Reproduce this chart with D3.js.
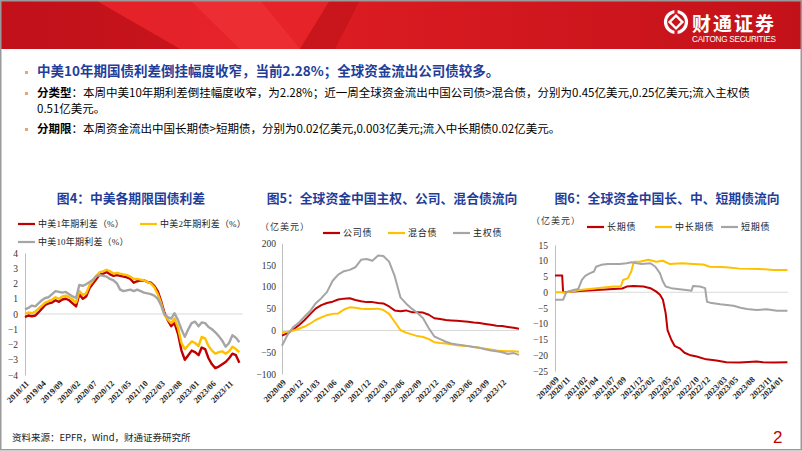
<!DOCTYPE html>
<html><head><meta charset="utf-8">
<script src="https://cdn.jsdelivr.net/npm/d3@7"></script>
<style>
body{margin:0;background:#fff;}
svg{display:block;}
</style></head><body>
<svg id="c" width="802" height="451"></svg>
<script>
// ---------------- DATA ----------------
// Chart 4: China-US government bond spreads (%), monthly 2018/11 - 2024/02
const c4Months = d3.timeMonth.range(new Date(2018, 10, 1), new Date(2024, 2, 1));
const spread1Y = [-0.2,-0.1,-0.15,-0.1,0.1,0.35,0.6,0.7,0.75,0.9,0.8,0.95,1.0,0.9,0.7,0.5,1.3,1.0,1.15,1.7,2.0,2.3,2.6,2.65,2.75,2.6,2.5,2.55,2.5,2.45,2.4,2.3,2.05,2.15,2.2,2.2,2.1,2.05,1.85,1.5,0.9,0.1,-0.4,-0.8,-0.6,-1.3,-2.4,-3.0,-2.7,-2.4,-2.5,-2.7,-2.2,-2.3,-2.9,-3.3,-3.55,-3.45,-3.3,-3.15,-2.9,-2.6,-2.7,-3.2];
const spread2Y = [0.0,0.1,0.05,0.15,0.35,0.55,0.75,0.85,0.95,1.1,1.0,1.15,1.2,1.1,0.95,0.75,1.5,1.25,1.35,1.9,2.2,2.5,2.75,2.8,2.9,2.8,2.65,2.7,2.65,2.6,2.55,2.45,2.3,2.3,2.25,2.2,2.1,2.0,1.75,1.3,0.75,-0.05,-0.35,-0.6,-0.3,-0.9,-1.9,-2.3,-2.05,-1.8,-1.9,-2.1,-1.5,-1.6,-2.1,-2.4,-2.6,-2.5,-2.45,-2.6,-2.45,-2.15,-2.3,-2.5];
const spread10Y = [0.3,0.4,0.55,0.5,0.7,0.9,1.05,1.1,1.3,1.5,1.45,1.4,1.45,1.3,1.15,1.05,1.9,1.85,1.95,2.1,2.25,2.5,2.55,2.5,2.45,2.3,2.2,2.0,1.6,1.5,1.55,1.6,1.5,1.6,1.5,1.4,1.35,1.3,1.2,1.0,0.6,0.0,-0.2,-0.3,0.05,-0.4,-1.0,-1.5,-1.0,-0.6,-0.5,-0.8,-0.55,-0.6,-0.85,-1.0,-1.2,-1.45,-1.75,-2.15,-1.9,-1.4,-1.55,-1.85];
const c4Ticks = ["2018/11","2019/04","2019/09","2020/02","2020/07","2020/12","2021/05","2021/10","2022/03","2022/08","2023/01","2023/06","2023/11"];
const c4YTicks = [-4,-3,-2,-1,0,1,2,3,4];
const c4Names = ["中美1年期利差（%）","中美2年期利差（%）","中美10年期利差（%）"];

// Chart 5: flows by bond type (100m USD), monthly 2020/09 - 2024/03
const c5Months = d3.timeMonth.range(new Date(2020, 8, 1), new Date(2024, 3, 1));
const corpBond   = [-12,-6,2,12,24,38,50,58,63,66,71,73,74,70,67,65,65,63,62,55,46,44,46,42,42,41,36,28,26,24,23,22,21,20,18,17,15,13,11,10,8,6,4];
const hybridBond = [-5,-3,0,4,9,16,24,30,35,38,39,48,53,52,50,49,49,50,47,38,20,1,-5,-9,-13,-15,-20,-27,-29,-30,-32,-34,-35,-36,-38,-40,-42,-44,-46,-47,-48,-48,-49];
const sovBond    = [-35,-10,8,18,32,45,62,74,88,114,128,136,139,145,162,164,160,172,171,158,125,76,62,50,40,28,5,-14,-20,-26,-30,-32,-34,-36,-38,-40,-43,-46,-48,-50,-54,-52,-56];
const c5Ticks = ["2020/09","2020/12","2021/03","2021/06","2021/09","2021/12","2022/03","2022/06","2022/09","2022/12","2023/03","2023/06","2023/09","2023/12"];
const c5YTicks = [-100,-50,0,50,100,150,200];
const c5Names = ["公司债","混合债","主权债"];

// Chart 6: flows by maturity (100m USD)
const longDates = ["2020-09-01","2020-10-10","2020-10-15","2020-11-01","2021-01-15","2021-04-15","2021-07-15","2021-09-01","2021-09-25","2021-11-01","2021-12-25","2022-02-01","2022-03-05","2022-03-25","2022-04-10","2022-04-25","2022-05-05","2022-05-25","2022-06-12","2022-07-10","2022-08-05","2022-09-01","2022-10-10","2022-12-01","2023-01-25","2023-03-20","2023-06-01","2023-09-01","2023-10-05","2023-12-01","2024-02-15"];
const longBond  = [5.3,5.3,0.0,0.1,0.4,0.7,1.0,1.2,1.8,2.0,1.8,1.3,0.2,-0.8,-2.4,-6.7,-12,-15,-17,-17.8,-19.2,-19.9,-20.4,-21.3,-21.7,-22.2,-22.3,-22.0,-22.2,-22.3,-22.2];
const midDates = ["2020-09-01","2020-10-05","2020-11-01","2021-01-15","2021-04-15","2021-07-15","2021-08-25","2021-09-05","2021-10-01","2021-10-20","2021-11-03","2021-12-05","2022-01-20","2022-03-05","2022-04-10","2022-05-15","2022-07-25","2022-09-20","2022-11-15","2022-12-20","2023-03-20","2023-06-01","2023-09-15","2023-12-01","2024-02-15"];
const midBond   = [0.0,0.0,-0.1,0.7,1.3,1.8,1.8,3.9,4.4,6.6,9.7,9.7,10.3,9.7,10.0,9.0,9.2,9.0,8.8,8.1,7.9,7.5,7.4,7.1,7.1];
const shortDates = ["2020-09-01","2020-10-15","2020-11-01","2020-12-10","2021-01-05","2021-01-25","2021-02-12","2021-03-08","2021-04-01","2021-04-12","2021-05-10","2021-06-15","2021-08-20","2021-09-25","2021-10-20","2021-11-20","2021-12-15","2022-02-01","2022-02-28","2022-03-25","2022-04-10","2022-04-25","2022-05-25","2022-07-10","2022-08-15","2022-09-12","2022-09-20","2022-10-28","2022-11-25","2022-12-05","2022-12-22","2023-02-15","2023-04-28","2023-06-05","2023-07-10","2023-09-01","2023-10-25","2023-12-20","2024-02-15"];
const shortBond = [-2.4,-2.4,0.0,0.7,1.0,3.9,5.2,6.0,6.6,8.1,8.7,9.0,9.0,9.2,9.5,9.2,9.0,9.2,8.1,6.0,3.4,1.8,1.3,0.95,0.7,0.5,2.0,1.8,1.3,-3.0,-3.3,-3.8,-4.3,-4.9,-5.3,-5.6,-5.4,-5.9,-5.9];
const c6Ticks = ["2020/09","2020/11","2021/02","2021/04","2021/07","2021/09","2021/12","2022/02","2022/05","2022/07","2022/10","2022/12","2023/03","2023/05","2023/08","2023/11","2024/01"];
const c6YTicks = [-25,-20,-15,-10,-5,0,5,10,15];
const c6Names = ["长期债","中长期债","短期债"];

const RED = "#c00000", YEL = "#ffc000", GRY = "#a5a5a5";

// ---------------- DRAW ----------------
const svg = d3.select("#c");
const CJK = "'Noto Sans CJK SC','Noto Sans',sans-serif";
const SERIF = "'Liberation Serif','Noto Sans CJK SC',serif";
const pm = d3.timeParse("%Y/%m"), pd = d3.timeParse("%Y-%m-%d");
const fmt = d3.timeFormat("%Y/%m");

// header banner
const defs = svg.append("defs");
const g1 = defs.append("linearGradient").attr("id","hg").attr("x1","0").attr("x2","1");
g1.append("stop").attr("offset","0").attr("stop-color","#c8121a");
g1.append("stop").attr("offset","0.4").attr("stop-color","#dc1c22");
g1.append("stop").attr("offset","1").attr("stop-color","#c3111a");
svg.append("rect").attr("x",0).attr("y",0).attr("width",802).attr("height",49).attr("fill","url(#hg)");
svg.append("polygon").attr("points","95,0 180,49 300,49 330,0").attr("fill","#e8262c").attr("opacity",0.8);
svg.append("polygon").attr("points","190,0 240,49 300,49 260,0").attr("fill","#f0353a").attr("opacity",0.6);
svg.append("polygon").attr("points","300,49 330,0 360,0 335,49").attr("fill","#b30f16").attr("opacity",0.5);
svg.append("polygon").attr("points","0,0 95,0 180,49 0,49").attr("fill","#b8101a").attr("opacity",0.45);
// logo
const lg = svg.append("g").attr("transform","translate(676,22)");
lg.append("circle").attr("r",10.5).attr("fill","none").attr("stroke","#fff").attr("stroke-width",3.2);
lg.append("rect").attr("x",-4.5).attr("y",-4.5).attr("width",9).attr("height",9).attr("transform","rotate(45)").attr("fill","none").attr("stroke","#fff").attr("stroke-width",2.4);
lg.append("rect").attr("x",-1.6).attr("y",-13).attr("width",3.2).attr("height",5).attr("fill","#d01820");
lg.append("rect").attr("x",-1.6).attr("y",8).attr("width",3.2).attr("height",5).attr("fill","#d01820");
svg.append("text").attr("x",692).attr("y",31).attr("fill","#fff").attr("font-family",CJK).attr("font-weight",700).attr("font-size",19).attr("letter-spacing",2).text("财通证券");
svg.append("text").attr("x",692).attr("y",42).attr("fill","#fff").attr("font-family","'Liberation Sans',Arial,sans-serif").attr("font-size",8.2).attr("textLength",84).text("CAITONG SECURITIES");

// slide frame
svg.append("rect").attr("x",0.75).attr("y",0.75).attr("width",800.5).attr("height",449).attr("fill","none").attr("stroke","#9a9a9a").attr("stroke-width",1.5);

// bullets
const bullets = [
  {y:76, parts:[{t:"中美10年期国债利差倒挂幅度收窄，当前2.28%；全球资金流出公司债较多。",b:true,c:"#1f3d99",s:13.5}]},
  {y:97, parts:[{t:"分类型",b:true,c:"#000",s:11.5},{t:"：本周中美10年期利差倒挂幅度收窄，为2.28%；近一周全球资金流出中国公司债>混合债，分别为0.45亿美元,0.25亿美元;流入主权债",b:false,c:"#000",s:11.5}]},
  {y:113, parts:[{t:"0.51亿美元。",b:false,c:"#000",s:11.5}], nob:true},
  {y:133, parts:[{t:"分期限",b:true,c:"#000",s:11.5},{t:"：本周资金流出中国长期债>短期债，分别为0.02亿美元,0.003亿美元;流入中长期债0.02亿美元。",b:false,c:"#000",s:11.5}]}
];
bullets.forEach(bl=>{
  if(!bl.nob) svg.append("rect").attr("x",25).attr("y",bl.y-5).attr("width",3).attr("height",3).attr("fill","#e0a878");
  const t = svg.append("text").attr("x",37).attr("y",bl.y).attr("font-family",CJK);
  bl.parts.forEach(p=>t.append("tspan").attr("font-weight",p.b?700:400).attr("fill",p.c).attr("font-size",p.s).text(p.t));
});

// chart helper
function chart(cfg){
  const g = svg.append("g");
  g.append("text").attr("x",cfg.titleX).attr("y",203).attr("text-anchor","middle").attr("font-family",CJK)
    .attr("font-weight",700).attr("font-size",12.8).attr("fill","#1f3d99").text(cfg.title);
  const x = d3.scaleTime().domain(cfg.xDomain).range(cfg.xRange);
  const y = d3.scaleLinear().domain(cfg.yDomain).range(cfg.yRange);
  // zero line
  g.append("line").attr("x1",cfg.xRange[0]).attr("x2",cfg.xRange[1]).attr("y1",y(0)).attr("y2",y(0)).attr("stroke","#d9d9d9").attr("stroke-width",1);
  // y axis
  const ya = g.append("g").attr("transform",`translate(${cfg.xRange[0]},0)`)
    .call(d3.axisLeft(y).tickValues(cfg.yTicks).tickSize(0).tickPadding(cfg.yPad));
  ya.select(".domain").attr("stroke","#bfbfbf").attr("stroke-width",1);
  ya.selectAll("text").attr("font-family",SERIF).attr("font-size",9.5).attr("fill","#333");
  // x axis labels
  const xa = g.append("g").attr("transform",`translate(0,${cfg.yRange[0]+5})`)
    .call(d3.axisBottom(x).tickValues(cfg.xTicks.map(pm)).tickSize(0).tickFormat(fmt));
  xa.select(".domain").remove();
  xa.selectAll("text").attr("y",0).attr("x",0).attr("dy","0.35em").attr("text-anchor","end")
    .attr("transform","translate(2,2) rotate(-45)").attr("font-family",SERIF).attr("font-weight",700)
    .attr("font-size",8.5).attr("fill","#222");
  // lines
  const line = d3.line().x(d=>x(d[0])).y(d=>y(d[1]));
  cfg.series.forEach(s=>{
    g.append("path").datum(s.dates.map((d,i)=>[d,s.values[i]]))
      .attr("fill","none").attr("stroke",s.color).attr("stroke-width",cfg.lw).attr("stroke-linejoin","round").attr("d",line);
  });
  // legend
  cfg.legend.forEach((l,i)=>{
    const s = cfg.series[i];
    g.append("line").attr("x1",l[0]).attr("x2",l[0]+17).attr("y1",l[1]).attr("y2",l[1]).attr("stroke",s.color).attr("stroke-width",2.2);
    g.append("text").attr("x",l[0]+20).attr("y",l[1]+3.3).attr("font-family",SERIF).attr("font-size",cfg.lfs)
      .attr("letter-spacing",cfg.lls).attr("fill","#222").text(s.name);
  });
  if(cfg.unit) g.append("text").attr("x",cfg.unit[0]).attr("y",cfg.unit[1]).attr("font-family",SERIF).attr("font-size",9)
      .attr("letter-spacing",1).attr("fill","#333").text("（亿美元）");
}

chart({
  title:"图4：中美各期限国债利差", titleX:131,
  xDomain:[new Date(2018,10,1), new Date(2024,2,1)], xRange:[25,242.6],
  yDomain:[-4,4], yRange:[375,253], yTicks:c4YTicks, yPad:7, xTicks:c4Ticks, lw:2.4, lfs:9, lls:0.2,
  series:[
    {name:c4Names[0], color:RED, dates:c4Months, values:spread1Y},
    {name:c4Names[1], color:YEL, dates:c4Months, values:spread2Y},
    {name:c4Names[2], color:GRY, dates:c4Months, values:spread10Y}
  ],
  legend:[[18,224],[140,224],[18,242]]
});
chart({
  title:"图5：全球资金中国主权、公司、混合债流向", titleX:392,
  xDomain:[new Date(2020,8,1), new Date(2024,2,1)], xRange:[282,519],
  yDomain:[-100,200], yRange:[374,243.3], yTicks:c5YTicks, yPad:6, xTicks:c5Ticks, lw:2, lfs:9, lls:0.8,
  series:[
    {name:c5Names[0], color:RED, dates:c5Months, values:corpBond},
    {name:c5Names[1], color:YEL, dates:c5Months, values:hybridBond},
    {name:c5Names[2], color:GRY, dates:c5Months, values:sovBond}
  ],
  legend:[[323,233],[388,233],[453,233]], unit:[260,230]
});
chart({
  title:"图6：全球资金中国长、中、短期债流向", titleX:667,
  xDomain:[new Date(2020,8,1), new Date(2024,1,18)], xRange:[555,788],
  yDomain:[-25,15], yRange:[371,245], yTicks:c6YTicks, yPad:7, xTicks:c6Ticks, lw:2, lfs:9, lls:0.8,
  series:[
    {name:c6Names[0], color:RED, dates:longDates.map(pd), values:longBond},
    {name:c6Names[1], color:YEL, dates:midDates.map(pd), values:midBond},
    {name:c6Names[2], color:GRY, dates:shortDates.map(pd), values:shortBond}
  ],
  legend:[[587,227],[655,227],[721,227]], unit:[531,224]
});

// footer
svg.append("text").attr("x",12).attr("y",441).attr("font-family",CJK).attr("font-size",9.5).attr("fill","#222").text("资料来源：EPFR，Wind，财通证券研究所");
svg.append("text").attr("x",773).attr("y",443).attr("font-family","'Liberation Sans',sans-serif").attr("font-size",17).attr("fill","#c00000").text("2");
</script>
</body></html>
